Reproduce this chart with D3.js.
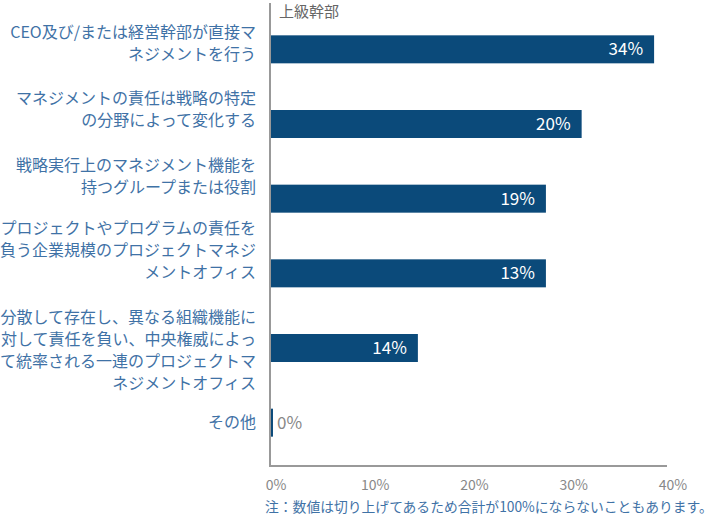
<!DOCTYPE html>
<html><head><meta charset="utf-8">
<script src="https://cdn.jsdelivr.net/npm/d3@7"></script>
<style>body{margin:0;background:#fff}svg{display:block}text{font-family:"Noto Sans CJK JP","Noto Sans",sans-serif}</style>
</head><body>
<script>
// Data
const categories = [
  ["CEO及び/または経営幹部が直接マ","ネジメントを行う"],
  ["マネジメントの責任は戦略の特定","の分野によって変化する"],
  ["戦略実行上のマネジメント機能を","持つグループまたは役割"],
  ["プロジェクトやプログラムの責任を","負う企業規模のプロジェクトマネジ","メントオフィス"],
  ["分散して存在し、異なる組織機能に","対して責任を負い、中央権威によっ","て統率される一連のプロジェクトマ","ネジメントオフィス"],
  ["その他"]
];
const barValues = [38.7, 31.4, 27.8, 27.8, 14.9, 0.3];   // bar lengths as drawn
const valueLabels = ["34%","20%","19%","13%","14%","0%"]; // labels as printed
const xTicks = [0, 10, 20, 30, 40];
const seriesName = "上級幹部";
const note = "注：数値は切り上げてあるため合計が100%にならないこともあります。";

// Layout
const W = 717, H = 519;
const labelShift = [-6, -15, -22, -23, 2, 0];
const blue = "#0b4a7a", textBlue = "#3f72a6", grey = "#999";

const svg = d3.select("body").append("svg").attr("width", W).attr("height", H);
const x = d3.scaleLinear().domain([0, 40]).range([270, 667]);
const y = d3.scaleBand().domain(d3.range(categories.length)).range([12, 460])
  .paddingInner(0.625).paddingOuter(0.3125);

// bars
svg.selectAll("rect.bar").data(barValues).join("rect")
  .attr("x", x(0)).attr("y", (d,i) => y(i))
  .attr("width", d => x(d) - x(0)).attr("height", y.bandwidth())
  .attr("fill", blue);

// axes lines
svg.append("line").attr("x1", 270).attr("x2", 270).attr("y1", 3).attr("y2", 467)
  .attr("stroke", grey).attr("stroke-width", 2);
svg.append("line").attr("x1", 269).attr("x2", x(40)).attr("y1", 466).attr("y2", 466)
  .attr("stroke", grey).attr("stroke-width", 2);

// series title
svg.append("text").attr("x", 279).attr("y", 17).attr("font-size", 15)
  .attr("fill", "#666").text(seriesName);

// value labels
svg.selectAll("text.val").data(barValues).join("text")
  .attr("class", "val")
  .attr("x", (d,i) => (x(d) - x(0) > 40) ? x(d) - 11 : x(d) + 4)
  .attr("y", (d,i) => y(i) + y.bandwidth()/2)
  .attr("dy", "0.36em")
  .attr("text-anchor", (d,i) => (x(d) - x(0) > 40) ? "end" : "start")
  .attr("font-size", 17)
  .attr("fill", (d,i) => (x(d) - x(0) > 40) ? "#fff" : "#888")
  .text((d,i) => valueLabels[i]);

// category labels
categories.forEach((lines, i) => {
  const cy = y(i) + y.bandwidth()/2 + labelShift[i];
  const lh = 22;
  const top = cy - (lines.length - 1) * lh / 2;
  lines.forEach((ln, j) => {
    svg.append("text").attr("x", 256).attr("y", top + j*lh).attr("dy", "0.36em")
      .attr("text-anchor", "end").attr("font-size", 16).attr("fill", textBlue)
      .text(ln);
  });
});

// x tick labels
svg.selectAll("text.tick").data(xTicks).join("text")
  .attr("x", d => x(d) + 6).attr("y", 485).attr("dy", "0.36em")
  .attr("text-anchor", "middle").attr("font-size", 14).attr("fill", "#888")
  .text(d => d + "%");

// note
svg.append("text").attr("x", 265).attr("y", 512).attr("font-size", 13.8)
  .attr("fill", textBlue).text(note);
</script>
</body></html>
